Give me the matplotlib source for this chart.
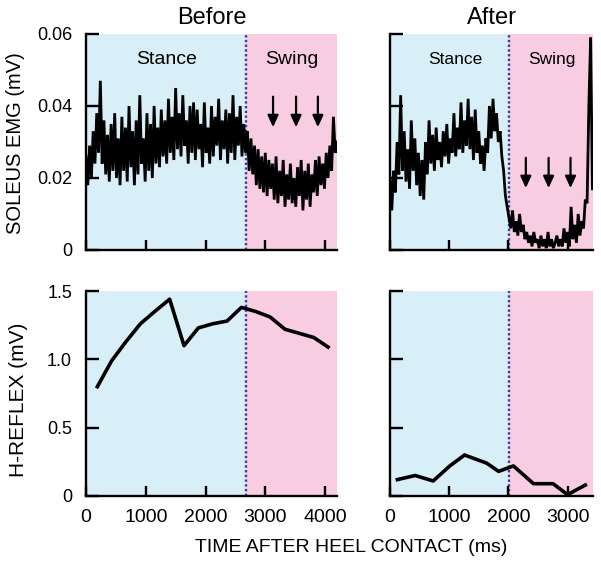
"""soleus EMG and H-reflex over the step cycle, before and after"""

import matplotlib.pyplot as plt
import numpy

plt.rcParams['font.family'] = ['Liberation Sans', 'DejaVu Sans']

FIG_W_PX = 601
FIG_H_PX = 567

STANCE_COLOR = '#d8eff8'
SWING_COLOR = '#f8cde1'
BORDER_COLOR = '#3c3c9e'

EMG_STEP_MS = 30

# soleus EMG, one value every EMG_STEP_MS, in microvolt
EMG_BEFORE_UV = [
    26, 18, 29, 20, 33, 24, 38, 27, 47, 24, 36, 21, 32, 19, 35, 22, 38, 20,
    31, 18, 37, 22, 34, 19, 40, 23, 33, 18, 36, 21, 43, 24, 31, 19, 38, 22,
    35, 20, 40, 24, 34, 23, 39, 26, 36, 24, 42, 27, 37, 25, 45, 28, 38, 26,
    43, 29, 36, 24, 40, 27, 41, 25, 39, 28, 35, 23, 41, 27, 34, 24, 40, 26,
    37, 29, 42, 25, 36, 28, 39, 24, 38, 27, 43, 25, 37, 29, 40, 26, 35, 27,
    33, 22, 31, 21, 29, 18, 28, 17, 26, 16, 27, 15, 25, 17, 24, 14, 26, 13,
    22, 15, 25, 12, 21, 14, 24, 13, 20, 12, 23, 15, 25, 11, 22, 14, 24, 12,
    21, 16, 25, 15, 26, 18, 24, 17, 27, 20, 29, 22, 37, 27, 30]
EMG_AFTER_UV = [
    20, 11, 22, 16, 30, 21, 43, 22, 33, 19, 28, 17, 36, 22, 31, 18, 27, 15,
    25, 14, 30, 21, 36, 24, 32, 22, 34, 25, 30, 23, 33, 26, 35, 24, 31, 27,
    38, 26, 34, 28, 41, 27, 36, 29, 42, 28, 37, 25, 39, 27, 33, 24, 29, 22,
    31, 27, 40, 31, 42, 33, 38, 30, 33, 26, 22, 15, 12, 9, 6, 11, 5, 8,
    4, 10, 5, 7, 3, 5, 2, 4, 1, 5, 2, 3, 0.5, 4, 1, 3, 0.5, 5,
    1, 3, 0.5, 2, 4, 1, 3, 1, 6, 2, 5, 1, 12, 3, 7, 2, 10, 4,
    8, 6, 14, 13, 40, 59, 17]

HREFLEX_BEFORE_MS = [
    190, 430, 670, 910, 1150, 1400, 1640, 1880, 2120, 2360, 2600, 2840,
    3080, 3330, 3570, 3810, 4050]
HREFLEX_BEFORE_MV = [
    0.80, 0.99, 1.13, 1.26, 1.35, 1.44, 1.10, 1.23, 1.26, 1.28, 1.38, 1.35,
    1.31, 1.22, 1.19, 1.16, 1.09]
HREFLEX_AFTER_MS = [
    125, 425, 730, 1010, 1260, 1635, 1835, 2085, 2425, 2755, 3000, 3300]
HREFLEX_AFTER_MV = [
    0.12, 0.15, 0.11, 0.22, 0.30, 0.24, 0.18, 0.22, 0.09, 0.09, 0.01, 0.08]

TITLES = ['Before', 'After']
STANCE_END_MS = [2670, 2010]
CYCLE_END_MS = [4200, 3430]
X_TICKS = [[0, 1000, 2000, 3000, 4000], [0, 1000, 2000, 3000]]
EMG_TICKS = [0, 0.02, 0.04, 0.06]
EMG_TICK_LABELS = ['0', '0.02', '0.04', '0.06']
HREFLEX_TICKS = [0, 0.5, 1.0, 1.5]
HREFLEX_TICK_LABELS = ['0', '0.5', '1.0', '1.5']
ARROW_MS = [[3130, 3515, 3880], [2295, 2680, 3050]]
ARROW_TOP_TIP_MV = [[0.0426, 0.0341], [0.0256, 0.0172]]
PHASE_LABEL_MS = [[1340, 3445], [1100, 2740]]


def _add_axes(fig, left, top, width, height):
    """axes placed in pixel units measured from the top left corner"""
    return fig.add_axes([
        left/FIG_W_PX, 1-(top+height)/FIG_H_PX,
        width/FIG_W_PX, height/FIG_H_PX])


def _style_axes(ax, col, y_top):
    ax.axvspan(0, STANCE_END_MS[col], color=STANCE_COLOR, lw=0, zorder=0)
    ax.axvspan(STANCE_END_MS[col], CYCLE_END_MS[col],
               color=SWING_COLOR, lw=0, zorder=0)
    ax.axvline(STANCE_END_MS[col], color=BORDER_COLOR, lw=1.7,
               linestyle=(0, (1, 1)), zorder=1)
    ax.set_xlim(0, CYCLE_END_MS[col])
    ax.set_ylim(0, y_top)
    ax.set_xticks(X_TICKS[col])
    for side in ['top', 'right']:
        ax.spines[side].set_visible(False)
    for side in ['left', 'bottom']:
        ax.spines[side].set_linewidth(1.7)
        ax.spines[side].set_zorder(3)
    ax.tick_params(axis='y', direction='in', length=9, width=1.7,
                   pad=10, labelsize=13)
    ax.tick_params(axis='x', direction='in', length=7.5, width=1.7,
                   pad=9, labelsize=14)


fig = plt.figure(figsize=(FIG_W_PX/100, FIG_H_PX/100), dpi=100)

AX_LEFT = [86, 390]
AX_WIDTH = [251, 203]
for col in range(2):
    ax_emg = _add_axes(fig, AX_LEFT[col], 34, AX_WIDTH[col], 216)
    _style_axes(ax_emg, col, 0.06)
    emg_uv = [EMG_BEFORE_UV, EMG_AFTER_UV][col]
    emg_ms = numpy.arange(len(emg_uv))*EMG_STEP_MS
    ax_emg.plot(emg_ms, numpy.array(emg_uv)/1000, color='black', lw=2.0,
                zorder=2, solid_joinstyle='miter')
    ax_emg.set_yticks(EMG_TICKS)
    ax_emg.set_yticklabels(EMG_TICK_LABELS if col == 0 else [])
    ax_emg.set_xticklabels([])
    ax_emg.set_title(TITLES[col], fontsize=17, pad=7)
    for label, pos in zip(['Stance', 'Swing'], PHASE_LABEL_MS[col]):
        ax_emg.text(pos, 0.0528, label, ha='center', va='center',
                    fontsize=14 if col == 0 else 12.5)
    top_mv, tip_mv = ARROW_TOP_TIP_MV[col]
    for arrow_ms in ARROW_MS[col]:
        ax_emg.annotate(
            '', xy=(arrow_ms, tip_mv), xytext=(arrow_ms, top_mv),
            arrowprops=dict(arrowstyle='-|>,head_width=0.32,head_length=0.7',
                            color='black', lw=1.6, shrinkA=0, shrinkB=0))

    ax_h = _add_axes(fig, AX_LEFT[col], 291, AX_WIDTH[col], 205)
    _style_axes(ax_h, col, 1.5)
    ax_h.plot([HREFLEX_BEFORE_MS, HREFLEX_AFTER_MS][col],
              [HREFLEX_BEFORE_MV, HREFLEX_AFTER_MV][col],
              color='black', lw=2.6, zorder=2, clip_on=False)
    ax_h.set_yticks(HREFLEX_TICKS)
    ax_h.set_yticklabels(HREFLEX_TICK_LABELS if col == 0 else [])

fig.text(16/FIG_W_PX, 1-143/FIG_H_PX, 'SOLEUS EMG (mV)', rotation=90,
         ha='center', va='center', fontsize=14.5)
fig.text(19/FIG_W_PX, 1-400/FIG_H_PX, 'H-REFLEX (mV)', rotation=90,
         ha='center', va='center', fontsize=15)
fig.text(351/FIG_W_PX, 1-547/FIG_H_PX, 'TIME AFTER HEEL CONTACT (ms)',
         ha='center', va='center', fontsize=14)

plt.savefig('out.png', dpi=100)
